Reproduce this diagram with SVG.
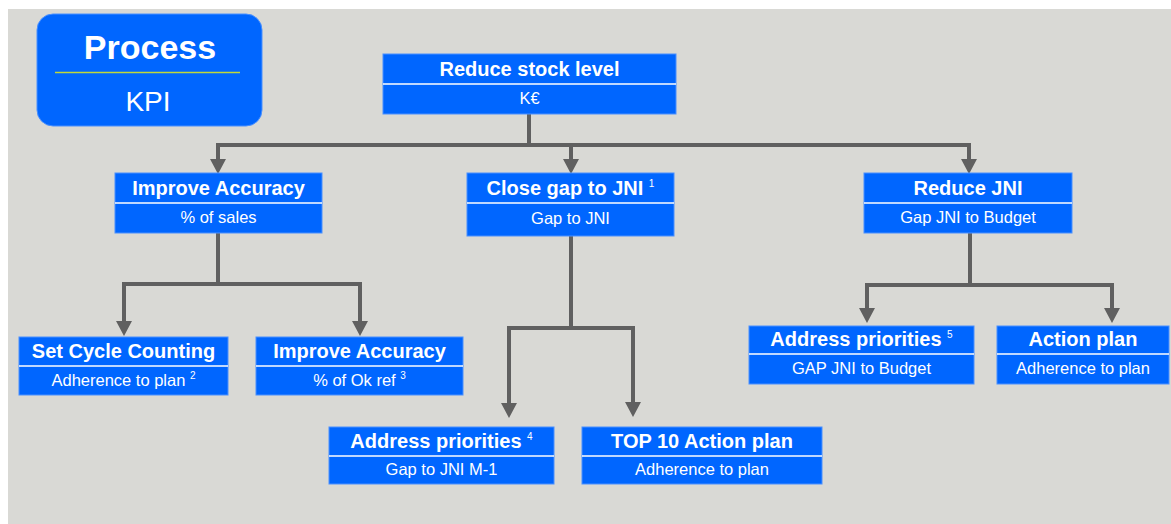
<svg xmlns="http://www.w3.org/2000/svg" width="1171" height="524" viewBox="0 0 1171 524">
<defs>
<style>
.bg{fill:#d9d9d5}
.box{fill:#0066ff;stroke:#4a90ff;stroke-width:1}
.div{stroke:#ffffff;stroke-width:1.5}
.t{font-family:"Liberation Sans",Arial,sans-serif;font-weight:bold;font-size:20px;fill:#ffffff;text-anchor:middle}
.s{font-family:"Liberation Sans",Arial,sans-serif;font-size:16.5px;fill:#ffffff;text-anchor:middle}
.sup{font-size:10px;font-weight:normal}
.con{fill:none;stroke:#606060;stroke-width:4;stroke-linejoin:miter}
</style>
<marker id="arr" viewBox="0 -8 15 16" refX="0" refY="0" markerWidth="15" markerHeight="16" markerUnits="userSpaceOnUse" orient="auto">
<path d="M0,-8 L15,0 L0,8 z" fill="#606060"/>
</marker>
</defs>
<rect x="0" y="0" width="1171" height="524" fill="#ffffff"/>
<rect class="bg" x="8" y="9" width="1163" height="515"/>

<g id="legend">
<rect x="37" y="14" width="225" height="112" rx="16" ry="16" fill="#0066ff" stroke="#4a90ff" stroke-width="1"/>
<line x1="55" y1="72.5" x2="240" y2="72.5" stroke="#c0d83a" stroke-width="1.5"/>
<text x="150" y="59" font-family="'Liberation Sans',Arial,sans-serif" font-weight="bold" font-size="34" fill="#ffffff" text-anchor="middle">Process</text>
<text x="148" y="111" font-family="'Liberation Sans',Arial,sans-serif" font-size="28" fill="#ffffff" text-anchor="middle">KPI</text>
</g>

<g id="connectors">
<path class="con" d="M529,114 V145 H218 V159" marker-end="url(#arr)"/>
<path class="con" d="M529,145 H571 V159" marker-end="url(#arr)"/>
<path class="con" d="M529,145 H969 V159" marker-end="url(#arr)"/>
<path class="con" d="M218,233 V284 H124 V321" marker-end="url(#arr)"/>
<path class="con" d="M218,284 H360 V321" marker-end="url(#arr)"/>
<path class="con" d="M571,236 V328 H509 V403" marker-end="url(#arr)"/>
<path class="con" d="M571,328 H633 V402" marker-end="url(#arr)"/>
<path class="con" d="M970,233 V285 H867 V308" marker-end="url(#arr)"/>
<path class="con" d="M970,285 H1112 V308" marker-end="url(#arr)"/>
</g>

<g id="reduce-stock">
<rect class="box" x="383" y="54" width="293" height="60"/>
<line class="div" x1="383" y1="84" x2="676" y2="84"/>
<text class="t" x="529.5" y="76">Reduce stock level</text>
<text class="s" x="529.5" y="104">K€</text>
</g>

<g id="improve-accuracy">
<rect class="box" x="115" y="173" width="207" height="60"/>
<line class="div" x1="115" y1="203" x2="322" y2="203"/>
<text class="t" x="218.5" y="195">Improve Accuracy</text>
<text class="s" x="218.5" y="223">% of sales</text>
</g>

<g id="close-gap">
<rect class="box" x="467" y="173" width="207" height="63"/>
<line class="div" x1="467" y1="203" x2="674" y2="203"/>
<text class="t" x="570.5" y="195">Close gap to JNI <tspan class="sup" dy="-8">1</tspan></text>
<text class="s" x="570.5" y="224">Gap to JNI</text>
</g>

<g id="reduce-jni">
<rect class="box" x="864" y="173" width="208" height="60"/>
<line class="div" x1="864" y1="203" x2="1072" y2="203"/>
<text class="t" x="968" y="195">Reduce JNI</text>
<text class="s" x="968" y="223">Gap JNI to Budget</text>
</g>

<g id="set-cycle">
<rect class="box" x="19" y="337" width="209" height="58"/>
<line class="div" x1="19" y1="366" x2="228" y2="366"/>
<text class="t" x="123.5" y="358">Set Cycle Counting</text>
<text class="s" x="123.5" y="386">Adherence to plan <tspan class="sup" dy="-7">2</tspan></text>
</g>

<g id="improve-accuracy-2">
<rect class="box" x="256" y="337" width="207" height="58"/>
<line class="div" x1="256" y1="366" x2="463" y2="366"/>
<text class="t" x="359.5" y="358">Improve Accuracy</text>
<text class="s" x="359.5" y="386">% of Ok ref <tspan class="sup" dy="-7">3</tspan></text>
</g>

<g id="address-4">
<rect class="box" x="329" y="427" width="225" height="57"/>
<line class="div" x1="329" y1="456" x2="554" y2="456"/>
<text class="t" x="441.5" y="448">Address priorities <tspan class="sup" dy="-8">4</tspan></text>
<text class="s" x="441.5" y="475">Gap to JNI M-1</text>
</g>

<g id="top10">
<rect class="box" x="582" y="427" width="240" height="57"/>
<line class="div" x1="582" y1="456" x2="822" y2="456"/>
<text class="t" x="702" y="448">TOP 10 Action plan</text>
<text class="s" x="702" y="475">Adherence to plan</text>
</g>

<g id="address-5">
<rect class="box" x="749" y="326" width="225" height="58"/>
<line class="div" x1="749" y1="354" x2="974" y2="354"/>
<text class="t" x="861.5" y="346">Address priorities <tspan class="sup" dy="-8">5</tspan></text>
<text class="s" x="861.5" y="374">GAP JNI to Budget</text>
</g>

<g id="action-plan">
<rect class="box" x="997" y="326" width="172" height="58"/>
<line class="div" x1="997" y1="354" x2="1169" y2="354"/>
<text class="t" x="1083" y="346">Action plan</text>
<text class="s" x="1083" y="374">Adherence to plan</text>
</g>
</svg>
